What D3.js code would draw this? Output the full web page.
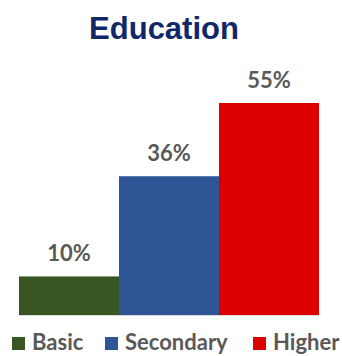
<!DOCTYPE html>
<html>
<head>
<meta charset="utf-8">
<script src="https://cdn.jsdelivr.net/npm/d3@7/dist/d3.min.js"></script>
<style>
  html, body { margin: 0; padding: 0; background: #fff; }
  svg { display: block; }
</style>
</head>
<body>
<svg id="chart" width="342" height="356"></svg>
<script>
// Share of respondents by education level
const categories = ["Basic", "Secondary", "Higher"];
const values = [10, 36, 55];
const valueLabels = ["10%", "36%", "55%"];
const colors = ["#375623", "#2F5597", "#DC0000"];
const title = "Education";

const svg = d3.select("#chart");
const W = 342, H = 356;
const margin = { left: 19, right: 23, top: 84, bottom: 41 };
const baseline = H - margin.bottom;

const x = d3.scaleBand()
  .domain(categories)
  .range([margin.left, W - margin.right])
  .paddingInner(0)
  .paddingOuter(0);

const y = d3.scaleLinear()
  .domain([0, 60])
  .range([baseline, baseline - 60 * (212 / 55)]);

// Title
svg.append("text")
  .attr("x", 164)
  .attr("y", 39)
  .attr("text-anchor", "middle")
  .attr("font-family", "'Liberation Sans', Arial, sans-serif")
  .attr("font-weight", "bold")
  .attr("font-size", 31)
  .attr("fill", "#10286a")
  .text(title);

// Bars
svg.selectAll("rect.bar")
  .data(categories)
  .join("rect")
  .attr("class", "bar")
  .attr("x", d => x(d))
  .attr("width", x.bandwidth())
  .attr("y", (d, i) => y(values[i]))
  .attr("height", (d, i) => y(0) - y(values[i]))
  .attr("fill", (d, i) => colors[i]);

// Baseline axis line
svg.append("g")
  .attr("transform", `translate(0,${baseline})`)
  .call(d3.axisBottom(x).tickSize(0).tickFormat(""))
  .call(g => g.select(".domain").attr("stroke", "#d9d9d9").attr("stroke-width", 1));

// Value labels
svg.selectAll("text.val")
  .data(categories)
  .join("text")
  .attr("class", "val")
  .attr("x", d => x(d) + x.bandwidth() / 2)
  .attr("y", (d, i) => y(values[i]) - 15)
  .attr("text-anchor", "middle")
  .attr("font-family", "Lato, sans-serif")
  .attr("font-weight", "bold")
  .attr("font-size", 22)
  .attr("fill", "#595959")
  .text((d, i) => valueLabels[i]);

// Legend
const legendX = [12, 105, 253];
const legend = svg.selectAll("g.leg")
  .data(categories)
  .join("g")
  .attr("class", "leg")
  .attr("transform", (d, i) => `translate(${legendX[i]},0)`);

legend.append("rect")
  .attr("x", 0)
  .attr("y", 337)
  .attr("width", 13)
  .attr("height", 13)
  .attr("fill", (d, i) => colors[i]);

legend.append("text")
  .attr("x", 20)
  .attr("y", 350)
  .attr("font-family", "Lato, sans-serif")
  .attr("font-weight", "bold")
  .attr("font-size", 22)
  .attr("fill", "#595959")
  .text(d => d);
</script>
</body>
</html>
